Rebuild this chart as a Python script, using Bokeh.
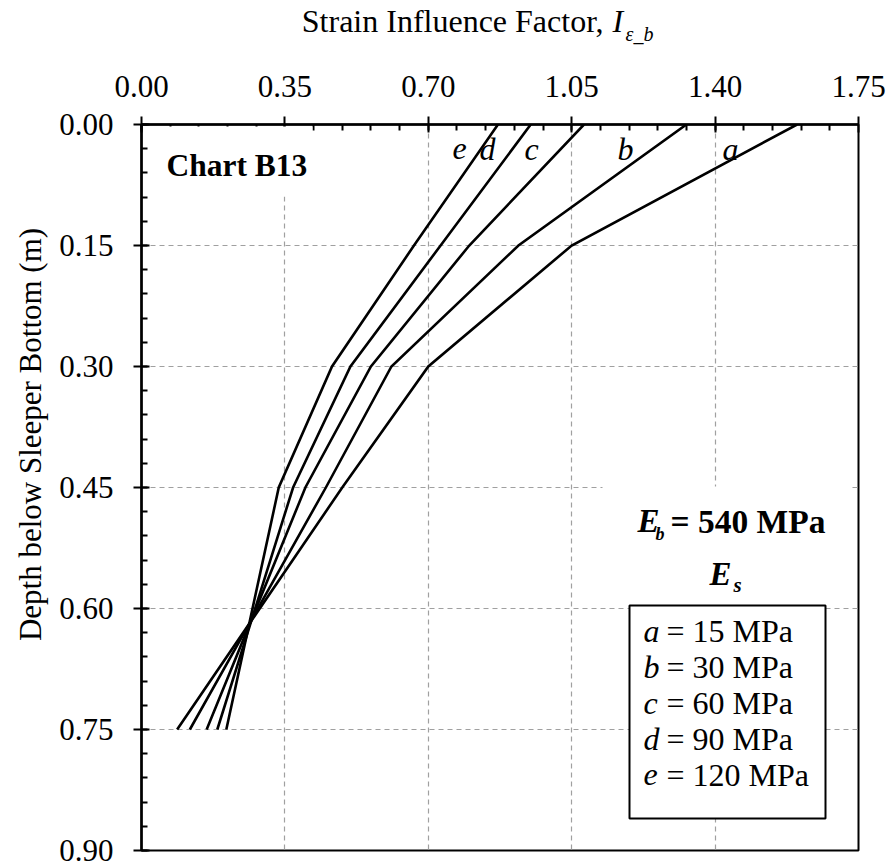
from bokeh.plotting import figure
from bokeh.models import (Range1d, FixedTicker, NumeralTickFormatter, Label,
                          BoxAnnotation)
from bokeh.embed import file_html
from bokeh.resources import INLINE

# ---------------- data ----------------
depth = [0.00, 0.15, 0.30, 0.45, 0.75]
curve_a = [1.60, 1.05, 0.70, 0.49, 0.087]
curve_b = [1.33, 0.92, 0.61, 0.45, 0.118]
curve_c = [1.08, 0.80, 0.56, 0.40, 0.159]
curve_d = [0.95, 0.73, 0.51, 0.37, 0.185]
curve_e = [0.87, 0.665, 0.465, 0.335, 0.207]
curves = [curve_a, curve_b, curve_c, curve_d, curve_e]
curve_names = ["a", "b", "c", "d", "e"]
curve_moduli = ["15", "30", "60", "90", "120"]

x_ticks = [0.0, 0.35, 0.70, 1.05, 1.40, 1.75]
y_ticks = [0.0, 0.15, 0.30, 0.45, 0.60, 0.75, 0.90]
x_minor = [i * 0.07 for i in range(26)]
y_minor = [i * 0.03 for i in range(31)]

# ---------------- layout ----------------
W, H = 893, 868
L, R, T, B = 141, 858, 124, 850
FONT = "Liberation Serif"
BASE_SHIFT = 0.37  # empirical baseline correction (fraction of font size)


def dx(px):
    return (px - L) / (R - L) * 1.75


def dy(py):
    return (py - T) / (B - T) * 0.9


p = figure(width=W, height=H, output_backend="svg", toolbar_location=None,
           x_range=Range1d(0, 1.75), y_range=Range1d(0.9, 0.0),
           x_axis_location="above",
           min_border_left=L, min_border_right=W - R,
           min_border_top=T, min_border_bottom=H - B)
p.background_fill_color = "white"
p.border_fill_color = "white"
p.outline_line_color = "black"
p.outline_line_width = 2

for ax, ticks, minor in ((p.xaxis[0], x_ticks, x_minor), (p.yaxis[0], y_ticks, y_minor)):
    ax.ticker = FixedTicker(ticks=ticks, minor_ticks=minor)
    ax.formatter = NumeralTickFormatter(format="0.00")
    ax.axis_line_width = 2.5
    ax.axis_line_color = "black"
    ax.major_tick_in = 8
    ax.major_tick_out = 8
    ax.major_tick_line_width = 2
    ax.minor_tick_in = 6
    ax.minor_tick_out = 0
    ax.minor_tick_line_width = 2
    ax.major_label_text_font = FONT
    ax.major_label_text_font_size = "31px"
    ax.major_label_text_color = "black"

p.xaxis.major_label_standoff = 20
p.yaxis.major_label_standoff = 20

p.xgrid.ticker = FixedTicker(ticks=x_ticks)
p.ygrid.ticker = FixedTicker(ticks=y_ticks)
for g in (p.xgrid[0], p.ygrid[0]):
    g.grid_line_color = "#a0a0a0"
    g.grid_line_dash = "5 4"
    g.grid_line_width = 1.2

for xs in curves:
    p.line(xs, depth, line_color="black", line_width=2.6, line_join="miter")

# white backgrounds behind annotations
p.add_layout(BoxAnnotation(left=dx(160), right=dx(312), top=dy(126), bottom=dy(196),
                           fill_color="white", fill_alpha=1, line_alpha=0))
p.add_layout(BoxAnnotation(left=dx(602), right=dx(849), top=dy(486), bottom=dy(605),
                           fill_color="white", fill_alpha=1, line_alpha=0))
p.add_layout(BoxAnnotation(left=dx(629), right=dx(825), top=dy(605), bottom=dy(818),
                           fill_color="white", fill_alpha=1, line_color="black",
                           line_alpha=1, line_width=2))


def lab(text, x, y, size=30, style="normal", align="left", angle=0,
        baseline="alphabetic", side=None, shift=True):
    # x, y: pixel position of the text start / baseline
    yy = y - BASE_SHIFT * size if shift else y
    lbl = Label(x=dx(x), y=dy(yy), text=text, text_font=FONT,
                text_font_size=f"{size}px", text_font_style=style,
                text_align=align, text_baseline=baseline,
                text_color="black", angle=angle)
    if side is None:
        p.add_layout(lbl)
    else:
        p.add_layout(lbl, side)


# title (top axis label) -- placed in side panels so it is not clipped to the frame
lab("Strain Influence Factor,", 603, 32, size=32, align="right", side="above")
lab("I", 612, 32, size=32, style="italic", side="left")
lab("\u03b5_b", 625, 41, size=20, style="italic", side="right")

# y axis label
lab("Depth below Sleeper Bottom (m)", 30, 434, size=31, align="center",
    angle=1.5708, baseline="middle", side="left", shift=False)

# chart name
lab("Chart B13", 166, 177, size=31.5, style="bold")

# curve labels
label_px = [730, 625, 531, 487, 459]
for name, px in zip(curve_names, label_px):
    lab(name, px, 160, size=32, style="italic", align="center")

# E_b / E_s
lab("E", 637, 533, size=33, style="bold italic")
lab("b", 655, 540, size=18, style="bold italic")
lab("= 540 MPa", 670, 533, size=33.5, style="bold")
lab("E", 709, 586, size=33, style="bold italic")
lab("s", 733, 592, size=21, style="bold italic")

# legend entries
base_px = [642, 678, 714, 750, 786]
for name, mod, by in zip(curve_names, curve_moduli, base_px):
    lab(name, 643, by, size=32, style="italic")
    lab(f"= {mod} MPa", 666, by, size=32)

open("out.html", "w").write(file_html(p, INLINE))
